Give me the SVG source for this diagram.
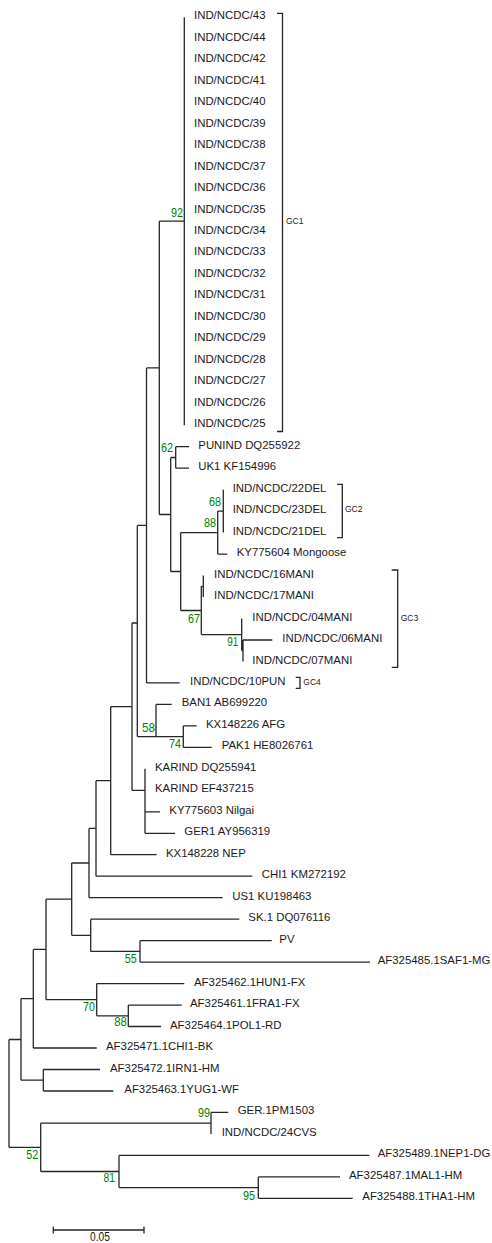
<svg xmlns="http://www.w3.org/2000/svg" width="492" height="1243" viewBox="0 0 492 1243">
<style>
.br{fill:none;stroke:#262626;stroke-width:1.3}
.tx{font-family:"Liberation Sans",Arial,sans-serif;font-size:11.4px;fill:#1a1a1a}
.bs{font-family:"Liberation Sans",Arial,sans-serif;font-size:13px;fill:#008000;text-anchor:end}
.gc{font-family:"Liberation Sans",Arial,sans-serif;font-size:8.5px;fill:#1a1a1a}
</style>
<rect width="492" height="1243" fill="#fff"/>
<g id="connectors" class="br">
<path d="M9,1039.5V1147.4M9,1039.5H21M21,998.7V1080.2M21,998.7H33.3M33.3,949.4V1048M33.3,1048H96.7M33.3,949.4H46M46,899.2V999.7"/>
<path d="M21,1080.2H43.3M43.3,1069.5V1091M43.3,1069.5H100M43.3,1091H113.3"/>
<path d="M46,899.2H71.7M71.7,863V935.3M46,999.7H96.7M96.7,983.6V1015.8M96.7,983.6H184.3M96.7,1015.8H128.3M128.3,1005.1V1026.5M128.3,1005.1H181.7M128.3,1026.5H161"/>
<path d="M71.7,863H89M89,828.4V897.7M89,897.7H222.7M71.7,935.3H90.7M90.7,919.2V951.4M90.7,919.2H239.3M90.7,951.4H140M140,940.6V962.1M140,940.6H271.7M140,962.1H370"/>
<path d="M89,828.4H96M96,780.7V876.2M96,876.2H252.3M96,780.7H110.7M110.7,706.6V854.7M110.7,854.7H156.7"/>
<path d="M110.7,706.6H132M132,623V790.3M132,790.3H145M145,768.8V833.3M145,811.8H160M145,833.3H175"/>
<path d="M132,623H137.3M137.3,525.4V736.6M137.3,736.6H156M156,704.4V736.6M156,704.4H171.7M156,736.6H183.3M183.3,725.9V747.4M183.3,725.9H196.7M183.3,747.4H211.7"/>
<path d="M137.3,525.4H146.5M146.5,367.9V682.9M146.5,682.9H179.7M146.5,367.9H159.3M159.3,221.2V514.5M159.3,221.2H184.3M184.3,17.2V425.2"/>
<path d="M159.3,514.5H170.7M170.7,457.5V571.5M170.7,457.5H175.7M175.7,446.7V468.2M175.7,446.7H189M175.7,468.2H189"/>
<path d="M170.7,571.5H180.7M180.7,532.6V610.5M180.7,532.6H217.7M217.7,511.1V554.1M217.7,511.1H223.3M223.3,489.7V532.6M217.7,554.1H227.3"/>
<path d="M180.7,610.5H201.3M201.3,586.3V634.6M201.3,586.3H203.3M203.3,575.6V597M201.3,634.6H241.7M241.7,618.5V650.7M241.7,650.7H243M243,640V661.5M243,640H272.3"/>
<path d="M9,1147.4H40.7M40.7,1123.2V1171.5M40.7,1123.2H211M211,1112.4V1133.9M211,1112.4H228.3M40.7,1171.5H119M119,1155.4V1187.6M119,1155.4H369.3M119,1187.6H258.3M258.3,1176.9V1198.3M258.3,1176.9H340M258.3,1198.3H352.7"/>
</g>
<g id="leaves" class="tx">
<g id="n43"><text x="194" y="19.2">IND/NCDC/43</text></g>
<g id="n44"><text x="194" y="40.7">IND/NCDC/44</text></g>
<g id="n42"><text x="194" y="62.2">IND/NCDC/42</text></g>
<g id="n41"><text x="194" y="83.6">IND/NCDC/41</text></g>
<g id="n40"><text x="194" y="105.1">IND/NCDC/40</text></g>
<g id="n39"><text x="194" y="126.6">IND/NCDC/39</text></g>
<g id="n38"><text x="194" y="148.1">IND/NCDC/38</text></g>
<g id="n37"><text x="194" y="169.5">IND/NCDC/37</text></g>
<g id="n36"><text x="194" y="191">IND/NCDC/36</text></g>
<g id="n35"><text x="194" y="212.5">IND/NCDC/35</text></g>
<g id="n34"><text x="194" y="234">IND/NCDC/34</text></g>
<g id="n33"><text x="194" y="255.4">IND/NCDC/33</text></g>
<g id="n32"><text x="194" y="276.9">IND/NCDC/32</text></g>
<g id="n31"><text x="194" y="298.4">IND/NCDC/31</text></g>
<g id="n30"><text x="194" y="319.9">IND/NCDC/30</text></g>
<g id="n29"><text x="194" y="341.3">IND/NCDC/29</text></g>
<g id="n28"><text x="194" y="362.8">IND/NCDC/28</text></g>
<g id="n27"><text x="194" y="384.3">IND/NCDC/27</text></g>
<g id="n26"><text x="194" y="405.8">IND/NCDC/26</text></g>
<g id="n25"><text x="194" y="427.2">IND/NCDC/25</text></g>
<g id="punind"><text x="198.3" y="448.7">PUNIND DQ255922</text></g>
<g id="uk1"><text x="198.3" y="470.2">UK1 KF154996</text></g>
<g id="n22del"><text x="232.7" y="491.7">IND/NCDC/22DEL</text></g>
<g id="n23del"><text x="232.7" y="513.1">IND/NCDC/23DEL</text></g>
<g id="n21del"><text x="232.7" y="534.6">IND/NCDC/21DEL</text></g>
<g id="mongoose"><text x="236.7" y="556.1">KY775604 Mongoose</text></g>
<g id="n16mani"><text x="214" y="577.6">IND/NCDC/16MANI</text></g>
<g id="n17mani"><text x="214" y="599">IND/NCDC/17MANI</text></g>
<g id="n04mani"><text x="252.3" y="620.5">IND/NCDC/04MANI</text></g>
<g id="n06mani"><text x="282.3" y="642">IND/NCDC/06MANI</text></g>
<g id="n07mani"><text x="252.3" y="663.5">IND/NCDC/07MANI</text></g>
<g id="n10pun"><text x="190" y="684.9">IND/NCDC/10PUN</text></g>
<g id="ban1"><text x="181.7" y="706.4">BAN1 AB699220</text></g>
<g id="afg"><text x="206" y="727.9">KX148226 AFG</text></g>
<g id="pak1"><text x="221.7" y="749.4">PAK1 HE8026761</text></g>
<g id="karind1"><text x="155" y="770.8">KARIND DQ255941</text></g>
<g id="karind2"><text x="155" y="792.3">KARIND EF437215</text></g>
<g id="nilgai"><text x="169.3" y="813.8">KY775603 Nilgai</text></g>
<g id="ger1"><text x="184.3" y="835.3">GER1 AY956319</text></g>
<g id="nep"><text x="166" y="856.7">KX148228 NEP</text></g>
<g id="chi1"><text x="261.7" y="878.2">CHI1 KM272192</text></g>
<g id="us1"><text x="232.3" y="899.7">US1 KU198463</text></g>
<g id="sk1"><text x="248.3" y="921.2">SK.1 DQ076116</text></g>
<g id="pv"><text x="279.3" y="942.6">PV</text></g>
<g id="saf1"><text x="377.7" y="964.1">AF325485.1SAF1-MG</text></g>
<g id="hun1"><text x="194" y="985.6">AF325462.1HUN1-FX</text></g>
<g id="fra1"><text x="190" y="1007.1">AF325461.1FRA1-FX</text></g>
<g id="pol1"><text x="170" y="1028.5">AF325464.1POL1-RD</text></g>
<g id="chi1bk"><text x="106" y="1050">AF325471.1CHI1-BK</text></g>
<g id="irn1"><text x="110" y="1071.5">AF325472.1IRN1-HM</text></g>
<g id="yug1"><text x="124.3" y="1093">AF325463.1YUG1-WF</text></g>
<g id="ger1pm"><text x="237.7" y="1114.4">GER.1PM1503</text></g>
<g id="n24cvs"><text x="221.7" y="1135.9">IND/NCDC/24CVS</text></g>
<g id="nep1"><text x="377.7" y="1157.4">AF325489.1NEP1-DG</text></g>
<g id="mal1"><text x="349" y="1178.9">AF325487.1MAL1-HM</text></g>
<g id="tha1"><text x="362.3" y="1200.3">AF325488.1THA1-HM</text></g>
</g>
<g id="support" class="bs">
<g id="b92"><text x="183" y="216.7" textLength="12" lengthAdjust="spacingAndGlyphs">92</text></g>
<g id="b62"><text x="173" y="452.4" textLength="12" lengthAdjust="spacingAndGlyphs">62</text></g>
<g id="b68"><text x="221" y="505.7" textLength="12" lengthAdjust="spacingAndGlyphs">68</text></g>
<g id="b88a"><text x="216" y="527.4" textLength="12" lengthAdjust="spacingAndGlyphs">88</text></g>
<g id="b67"><text x="200" y="623" textLength="12" lengthAdjust="spacingAndGlyphs">67</text></g>
<g id="b91"><text x="238.3" y="646.4" textLength="11" lengthAdjust="spacingAndGlyphs">91</text></g>
<g id="b58"><text x="155" y="732.4" textLength="13" lengthAdjust="spacingAndGlyphs">58</text></g>
<g id="b74"><text x="181" y="748" textLength="12" lengthAdjust="spacingAndGlyphs">74</text></g>
<g id="b55"><text x="136.7" y="963" textLength="12" lengthAdjust="spacingAndGlyphs">55</text></g>
<g id="b70"><text x="95" y="1011.4" textLength="12" lengthAdjust="spacingAndGlyphs">70</text></g>
<g id="b88b"><text x="126.7" y="1026.4" textLength="12.5" lengthAdjust="spacingAndGlyphs">88</text></g>
<g id="b99"><text x="210" y="1117" textLength="12" lengthAdjust="spacingAndGlyphs">99</text></g>
<g id="b52"><text x="38.3" y="1158.7" textLength="12" lengthAdjust="spacingAndGlyphs">52</text></g>
<g id="b81"><text x="115" y="1182.4" textLength="11.5" lengthAdjust="spacingAndGlyphs">81</text></g>
<g id="b95"><text x="255" y="1199.7" textLength="12" lengthAdjust="spacingAndGlyphs">95</text></g>
</g>
<g id="gc1">
<path class="br" d="M277,13.3H282.5V431.5H277"/>
<text class="gc" x="286" y="223.7">GC1</text>
</g>
<g id="gc2">
<path class="br" d="M337,484.3H342.3V537.7H337"/>
<text class="gc" x="345" y="512.3">GC2</text>
</g>
<g id="gc3">
<path class="br" d="M391.7,570H397.7V667.3H391.7"/>
<text class="gc" x="400.7" y="621.3">GC3</text>
</g>
<g id="gc4">
<path class="br" d="M295.7,677.3H300V688.3H295.7"/>
<text class="gc" x="303.3" y="685">GC4</text>
</g>
<g id="scalebar">
<path class="br" d="M53.3,1230H144M53.3,1226.5V1233.5M144,1226.5V1233.5"/>
<text x="100" y="1241" font-family="Liberation Sans, Arial, sans-serif" font-size="12.5" fill="#1a1a1a" text-anchor="middle" textLength="20" lengthAdjust="spacingAndGlyphs">0.05</text>
</g>
</svg>
